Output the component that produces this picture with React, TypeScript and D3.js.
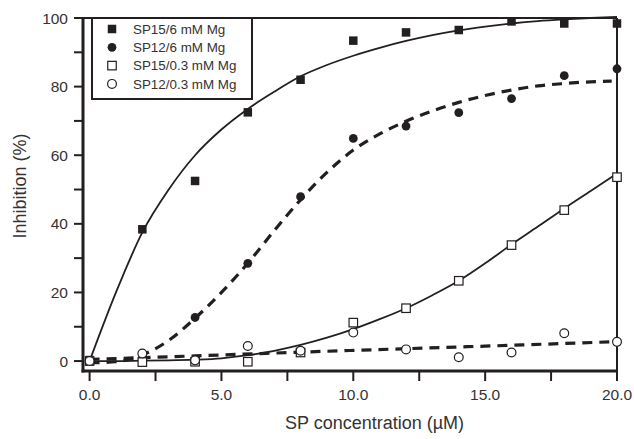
import React from "react";
import * as d3 from "d3";

// ---- Data ----
const conc = [0, 2, 4, 6, 8, 10, 12, 14, 16, 18, 20];
const sp15_6mM = [0.3, 38.4, 52.5, 72.5, 82, 93.4, 95.8, 96.5, 99, 98.4, 98.4];
const sp12_6mM = [0, 0.8, 12.7, 28.5, 47.9, 64.9, 68.5, 72.4, 76.5, 83.2, 85.2];
const sp15_03mM = [0, -0.3, -0.2, -0.2, 2.5, 11.2, 15.4, 23.4, 33.8, 44, 53.6];
const sp12_03mM = [0, 2.2, 0.2, 4.4, 3.0, 8.3, 3.4, 1.1, 2.5, 8.1, 5.6];

// fitted curves
const fitX = [0, 1, 2, 3, 4, 5, 6, 7, 8, 9, 10, 11, 12, 13, 14, 15, 16, 17, 18, 19, 20];
const fit15_6mM = [0, 20, 37.5, 50, 60, 67.5, 73.5, 78.5, 83, 86.3, 89, 91.3, 93.3, 95, 96.4, 97.5, 98.4, 99.1, 99.6, 100, 100.3];
const fit12_6X = [0, 1, 2, 3, 4, 5, 6, 7, 8, 9, 10, 11, 12, 13, 14, 15, 16, 17, 18, 19, 19.8];
const fit12_6mM = [-0.5, -0.2, 1.8, 6, 12.5, 20, 28.5, 38, 47, 55, 61.5, 66.2, 69.9, 72.9, 75.4, 77.4, 79, 80.2, 80.9, 81.4, 81.6];
const fit15_03mM = [0, 0, 0.1, 0.2, 0.4, 0.8, 1.7, 3.0, 4.7, 6.8, 9.3, 12.2, 15.4, 19.2, 23.4, 28.5, 34, 39.2, 44.5, 49.6, 54.7];
const fit12_03X = [0, 4, 8, 12, 16, 19.8];
const fit12_03mM = [0.5, 1.5, 2.6, 3.6, 4.6, 5.6];

const xTicks = [0, 2.5, 5, 7.5, 10, 12.5, 15, 17.5, 20];
const xLabels = [0, 5, 10, 15, 20];
const yTicks = [0, 10, 20, 30, 40, 50, 60, 70, 80, 90, 100];
const yLabels = [0, 20, 40, 60, 80, 100];

const legendLabels = ["SP15/6 mM Mg", "SP12/6 mM Mg", "SP15/0.3 mM Mg", "SP12/0.3 mM Mg"];
const markerKinds = ["fsquare", "fcircle", "osquare", "ocircle"];

const INK = "#231f20";
const TXT = "#333333";
const FONT = "'Liberation Sans', Arial, Helvetica, sans-serif";

export default function App() {
  const W = 634, H = 439;
  const left = 83, right = 617, top = 18, bottom = 371;
  const x = d3.scaleLinear().domain([-0.25, 20]).range([left, right]);
  const y = d3.scaleLinear().domain([-2.9, 100]).range([bottom, top]);

  const line = (xs: number[], ys: number[]) =>
    d3.line<number>()
      .x((_, i) => x(xs[i]))
      .y((v) => y(v))
      .curve(d3.curveMonotoneX)(ys) || "";

  const marker = (kind: string, cx: number, cy: number, key: string) => {
    const s = 8.5;
    switch (kind) {
      case "fsquare":
        return <rect key={key} x={cx - s / 2} y={cy - s / 2} width={s} height={s} fill={INK} />;
      case "fcircle":
        return <circle key={key} cx={cx} cy={cy} r={4.4} fill={INK} />;
      case "osquare":
        return <rect key={key} x={cx - s / 2} y={cy - s / 2} width={s} height={s} fill="#fff" stroke={INK} strokeWidth={1.2} />;
      default:
        return <circle key={key} cx={cx} cy={cy} r={4.4} fill="#fff" stroke={INK} strokeWidth={1.2} />;
    }
  };

  const seriesList = [sp15_6mM, sp12_6mM, sp15_03mM, sp12_03mM];

  return (
    <svg width={W} height={H} style={{ position: "absolute", left: 0, top: 0, display: "block", background: "#fff" }}
      fontFamily={FONT}>
      <rect x={0} y={0} width={W} height={H} fill="#fff" />
      {/* frame top/right */}
      <line x1={left} x2={right} y1={top} y2={top} stroke={INK} strokeWidth={2} />
      <line x1={right} x2={right} y1={top} y2={bottom} stroke={INK} strokeWidth={2} />

      {/* fit curves */}
      <path d={line(fitX, fit15_6mM)} fill="none" stroke={INK} strokeWidth={1.8} />
      <path d={line(fit12_6X, fit12_6mM)} fill="none" stroke={INK} strokeWidth={3.2} strokeDasharray="10,7" />
      <path d={line(fitX, fit15_03mM)} fill="none" stroke={INK} strokeWidth={1.8} />
      <path d={line(fit12_03X, fit12_03mM)} fill="none" stroke={INK} strokeWidth={3.2} strokeDasharray="10,7" />

      {/* markers */}
      {seriesList.map((ser, si) =>
        ser.map((v, i) => marker(markerKinds[si], x(conc[i]), y(v), `m${si}-${i}`))
      )}

      {/* axes */}
      <line x1={left} x2={left} y1={top - 1} y2={bottom + 1.5} stroke={INK} strokeWidth={3} />
      <line x1={left - 1.5} x2={right + 1} y1={bottom} y2={bottom} stroke={INK} strokeWidth={3} />
      {yTicks.map((t) => (
        <line key={`yt${t}`} x1={left - 9} x2={left} y1={y(t)} y2={y(t)} stroke={INK} strokeWidth={2} />
      ))}
      {yLabels.map((t) => (
        <text key={`yl${t}`} x={68} y={y(t)} dy="0.36em" textAnchor="end" fontSize={15.5} fill={TXT}>{t}</text>
      ))}
      {xTicks.map((t) => (
        <line key={`xt${t}`} x1={x(t)} x2={x(t)} y1={bottom} y2={bottom + 10} stroke={INK} strokeWidth={2} />
      ))}
      {xLabels.map((t) => (
        <text key={`xl${t}`} x={x(t)} y={400} textAnchor="middle" fontSize={15.5} fill={TXT}>{d3.format(".1f")(t)}</text>
      ))}

      {/* axis titles */}
      <text x={374.5} y={429} textAnchor="middle" fontSize={18} fill={TXT}>SP concentration (µM)</text>
      <text transform="translate(26,186) rotate(-90)" textAnchor="middle" fontSize={18} fill={TXT}>Inhibition (%)</text>

      {/* legend */}
      <rect x={92} y={top} width={160} height={81} fill="#fff" stroke={INK} strokeWidth={2} />
      {legendLabels.map((lab, i) => {
        const ly = 29 + i * 18.3;
        return (
          <g key={lab}>
            {marker(markerKinds[i], 112, ly, `lg${i}`)}
            <text x={133} y={ly} dy="0.36em" fontSize={13.4} fill={TXT}>{lab}</text>
          </g>
        );
      })}
    </svg>
  );
}
